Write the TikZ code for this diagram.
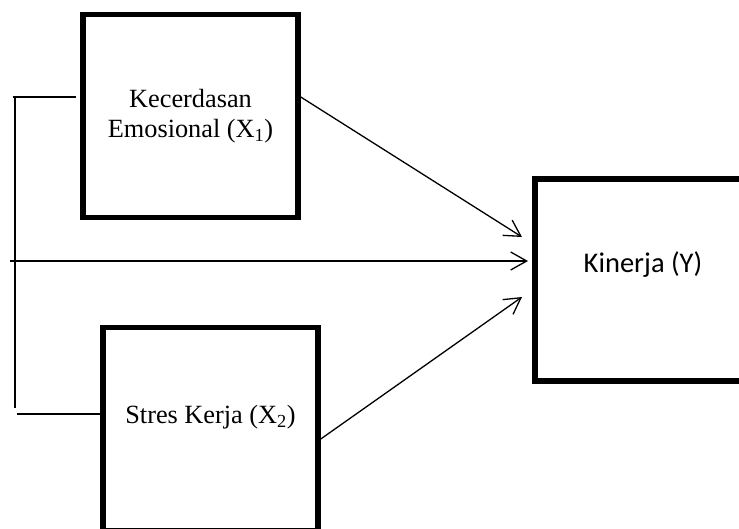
\documentclass[tikz,border=0pt]{standalone}
\usepackage{fontspec}
\setmainfont{Liberation Serif}
\newfontfamily\calibrifont{Carlito}
\usetikzlibrary{arrows.meta}

\begin{document}
\begin{tikzpicture}[x=1pt, y=-1pt,
  varbox/.style={draw, rectangle, line width=5.5pt, inner sep=0pt, minimum width=215pt, minimum height=203pt},
  serifText/.style={align=center, font=\fontsize{26.3}{30}\selectfont},
  link/.style={line width=1.3pt},
  arrowlink/.style={link, -{Straight Barb[length=16pt,width=18pt,line width=1.3pt]}}]
\clip (0,0) rectangle (739,529);
% variable boxes
\node[varbox, serifText] (emosi) at (190.5,116) {Kecerdasan\\Emosional (X\textsubscript{1})};
\node[varbox] (stres) at (210.5,429) {};
\node[varbox, minimum width=220pt, minimum height=202pt] (kinerja) at (645,280) {};
\node[serifText] (stresLbl) at ([yshift=12pt]stres.center) {Stres Kerja (X\textsubscript{2})};
\node[font=\calibrifont\fontsize{28.5}{30}\selectfont] (kinerjaLbl) at ([xshift=-2pt,yshift=15pt]kinerja.center) {Kinerja (Y)};
% arrow ends and bracket corners
\coordinate (tipA) at (522,237);
\coordinate (tipB) at (528,261);
\coordinate (tipC) at (522,297);
\coordinate (leftEnd) at (10,261);
\coordinate (brTop) at (13,97);
\coordinate (brUp) at (15,97);
\coordinate (brDown) at (15,408);
\coordinate (brBottom) at (17,414);
% arrows
\draw[arrowlink] ([yshift=19pt]emosi.east) -- (tipA);
\draw[arrowlink] (leftEnd) -- (tipB);
\draw[arrowlink] ([yshift=-10pt]stres.east) -- (tipC);
% bracket
\draw[link] (brTop) -- ([xshift=-4pt,yshift=19pt]emosi.west);
\draw[link] (brUp) -- (brDown);
\draw[link] (brBottom) -- ([yshift=15pt]stres.west);
\end{tikzpicture}
\end{document}
